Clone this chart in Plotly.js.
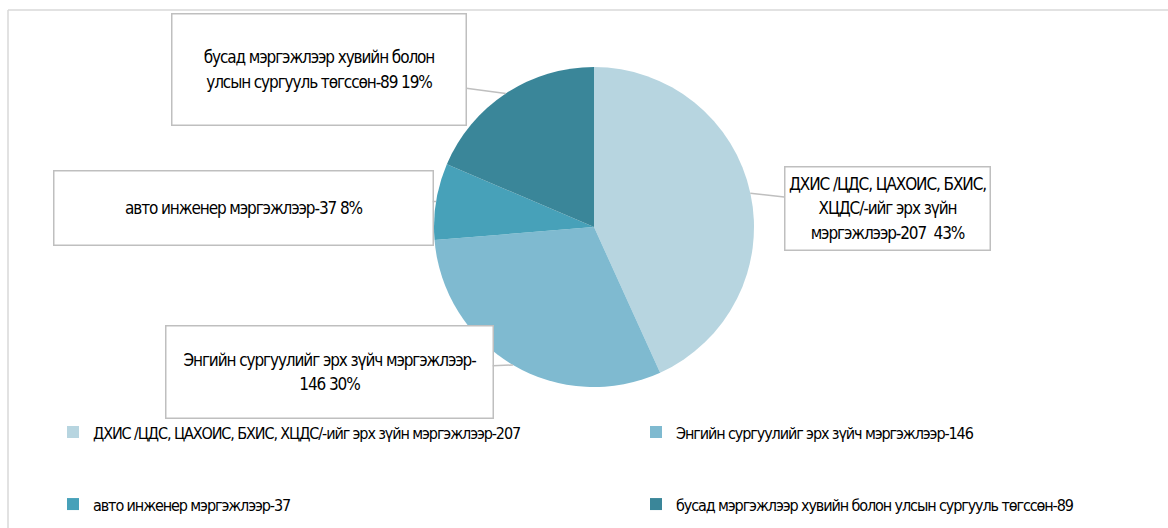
<!DOCTYPE html>
<html>
<head>
<meta charset="utf-8">
<script src="https://cdn.plot.ly/plotly-3.0.1.min.js"></script>
<style>
html,body{margin:0;padding:0;background:#fff;}
#chart{width:1168px;height:528px;}
#chart text.legendtext, #chart text.annotation-text { letter-spacing:-1.1px; font-stretch:condensed; }
</style>
</head>
<body>
<div id="chart"></div>
<script>
// ---- data ----
const categories = [
  "ДХИС /ЦДС, ЦАХОИС, БХИС, ХЦДС/-ийг эрх зүйн мэргэжлээр-207",
  "Энгийн сургуулийг эрх зүйч мэргэжлээр-146",
  "авто инженер мэргэжлээр-37",
  "бусад мэргэжлээр хувийн болон улсын сургууль төгссөн-89"
];
const values = [207, 146, 37, 89];
const boxLabels = [
  "ДХИС /ЦДС, ЦАХОИС, БХИС,<br>ХЦДС/-ийг эрх зүйн<br>мэргэжлээр-207 ",
  "Энгийн сургуулийг эрх зүйч мэргэжлээр-<br>146",
  "авто инженер мэргэжлээр-37",
  "бусад мэргэжлээр хувийн болон<br>улсын сургууль төгссөн-89"
];
const colors = ["#b7d5e0", "#7fbad0", "#47a1b9", "#3a8699"];

// ---- layout geometry (pixels) ----
const W = 1168, H = 528;
const cx = 594, cy = 227, R = 160;
const boxes = [ // center x, center y, width, height
  [887, 209, 206, 84],
  [329, 372, 328, 93],
  [243, 208, 380, 75],
  [319, 69, 295, 112]
];
const FONT = '"DejaVu Sans Condensed", "DejaVu Sans", sans-serif';

const total = values.reduce((a, b) => a + b, 0);
let cum = 0;
const annotations = values.map((v, i) => {
  const mid = (cum + v / 2) / total * 2 * Math.PI;
  cum += v;
  const tx = cx + R * Math.sin(mid);
  const ty = cy - R * Math.cos(mid);
  const pct = Math.round(v / total * 100) + '%';
  const b = boxes[i];
  return {
    xref: 'paper', yref: 'paper',
    x: tx / W, y: 1 - ty / H,
    ax: b[0] - tx, ay: b[1] - ty,
    axref: 'pixel', ayref: 'pixel',
    text: '<span style="font-size:17px">' + boxLabels[i].split('<br>').join('</span><br><span style="font-size:17px">') + ' ' + pct + '</span>',
    showarrow: true, arrowhead: 0, arrowwidth: 1.5, arrowcolor: '#bfbfbf', standoff: 0,
    width: b[2] - 2, height: b[3] - 2,
    bgcolor: '#ffffff', bordercolor: '#bfbfbf', borderwidth: 1.5, borderpad: 0,
    align: 'center', valign: 'middle',
    font: {family: FONT, size: 19, color: '#000000'}
  };
});

// blank lines above each legend entry give the wide row spacing of the original
const legendLabels = categories.map(c => ' <br> <br><span style="font-size:16px">' + c + '</span>');

const trace = {
  type: 'pie',
  labels: legendLabels,
  values: values,
  sort: false,
  direction: 'clockwise',
  rotation: 0,
  textinfo: 'none',
  hoverinfo: 'value+percent',
  marker: {colors: colors, line: {width: 0}},
  domain: {x: [(cx - R) / W, (cx + R) / W], y: [1 - (cy + R) / H, 1 - (cy - R) / H]},
  showlegend: true
};

const layout = {
  width: W, height: H,
  margin: {l: 0, r: 0, t: 0, b: 0, autoexpand: false},
  paper_bgcolor: '#ffffff',
  font: {family: FONT, size: 17, color: '#000000'},
  showlegend: true,
  legend: {
    orientation: 'h', x: 53 / W, xanchor: 'left', y: 1 - 368 / H, yanchor: 'top',
    entrywidth: 538, entrywidthmode: 'pixels', valign: 'bottom', traceorder: 'normal',
    font: {family: FONT, size: 17.7, color: '#000000'}, bgcolor: 'rgba(0,0,0,0)'
  },
  annotations: annotations,
  shapes: [
    {type: 'line', xref: 'paper', yref: 'paper', x0: 8 / W, x1: 1, y0: 1 - 10 / H, y1: 1 - 10 / H, line: {color: '#d9d9d9', width: 1.5}},
    {type: 'line', xref: 'paper', yref: 'paper', x0: 8 / W, x1: 8 / W, y0: 0, y1: 1 - 10 / H, line: {color: '#d9d9d9', width: 1.5}}
  ]
};

Plotly.newPlot('chart', [trace], layout, {displayModeBar: false, staticPlot: true});
</script>
</body>
</html>
